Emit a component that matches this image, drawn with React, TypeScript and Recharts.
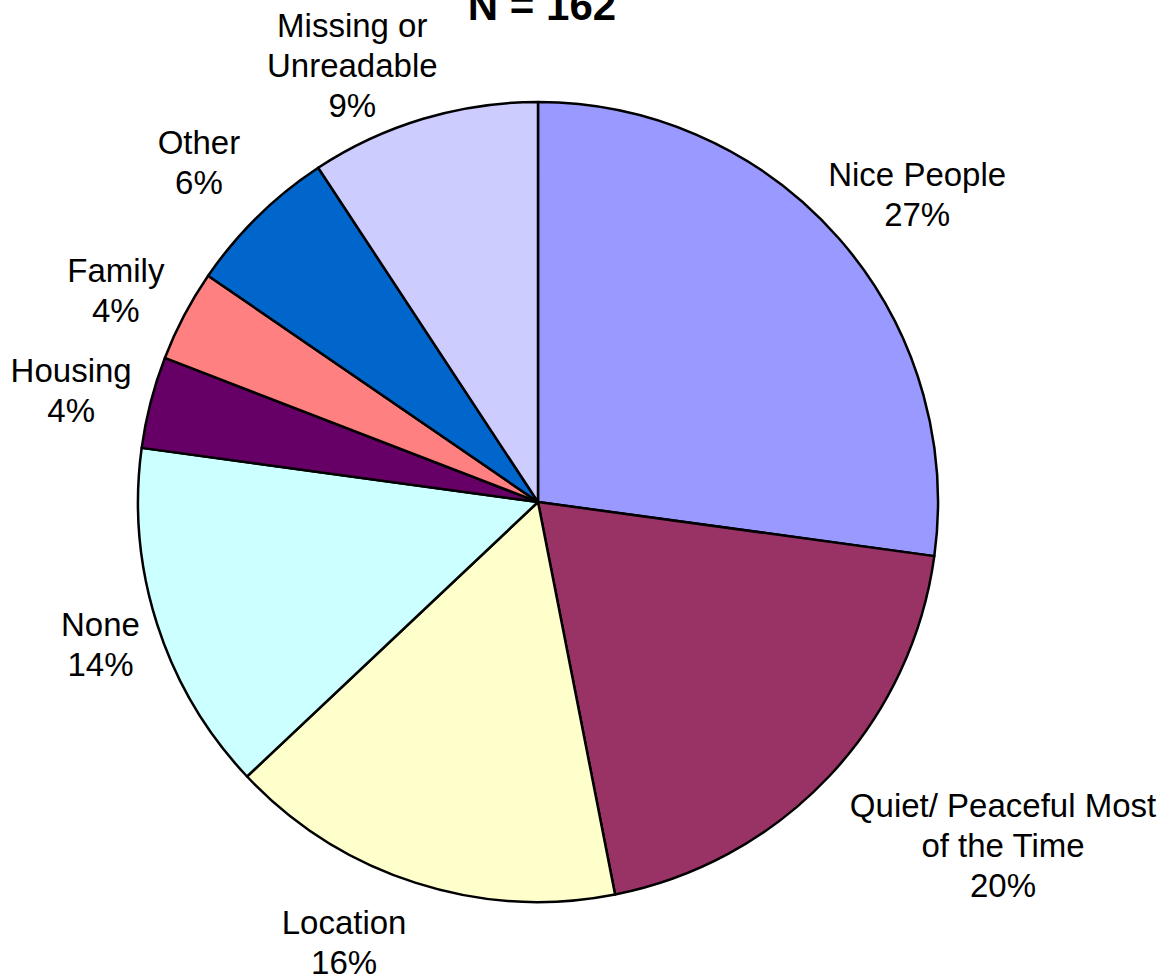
import React from "react";
import { PieChart, Pie, Cell } from "recharts";

// ---- data ----
const categories = [
  "Nice People",
  "Quiet/ Peaceful Most\nof the Time",
  "Location",
  "None",
  "Housing",
  "Family",
  "Other",
  "Missing or\nUnreadable",
];
const counts = [44, 32, 26, 23, 6, 6, 10, 15];
const colors = ["#9999FF", "#993366", "#FFFFCC", "#CCFFFF", "#660066", "#FF8080", "#0066CC", "#CCCCFF"];
const titleText = "N = 162";

// label placement: angular nudge (deg, clockwise) from the slice mid angle, and distance beyond the rim
const labelAngleNudge = [2.1, -6.9, 6.0, -0.2, -1.0, -1.2, -0.5, -6.4];
const labelRadiusExtra = [88, 178, 81, 60, 80, 72, 80, 74];

const data = categories.map((name, i) => ({ name, value: counts[i] }));

const FONT = "'Liberation Sans', Arial, Helvetica, sans-serif";
const FONT_SIZE = 33;
const LINE_H = 40;
const RAD = Math.PI / 180;

const renderLabel = (props: any) => {
  const { cx, cy, midAngle, outerRadius, index, percent } = props;
  const angle = midAngle - labelAngleNudge[index];
  const r = outerRadius + labelRadiusExtra[index];
  const x = cx + r * Math.cos(-angle * RAD);
  const y = cy + r * Math.sin(-angle * RAD);
  const lines = [...categories[index].split("\n"), `${Math.round(percent * 100)}%`];
  const n = lines.length;
  const firstBaseline = y - ((n - 1) * LINE_H) / 2 + FONT_SIZE * 0.35;
  return (
    <text
      key={`lbl-${index}`}
      x={x}
      y={firstBaseline}
      textAnchor="middle"
      fill="#000"
      fontFamily={FONT}
      fontSize={FONT_SIZE}
    >
      {lines.map((ln, i) => (
        <tspan key={i} x={x} y={firstBaseline + i * LINE_H}>
          {ln}
        </tspan>
      ))}
    </text>
  );
};

export default function App() {
  return (
    <div style={{ position: "absolute", left: 0, top: 0, width: 1173, height: 978, background: "#fff" }}>
      <PieChart width={1173} height={978} margin={{ top: 0, right: 0, bottom: 0, left: 0 }}>
        <Pie
          data={data}
          dataKey="value"
          nameKey="name"
          cx={538}
          cy={502}
          outerRadius={400}
          startAngle={90}
          endAngle={-270}
          stroke="#000"
          strokeWidth={2.5}
          strokeLinejoin="round"
          labelLine={false}
          label={renderLabel}
          isAnimationActive={false}
        >
          {data.map((d, i) => (
            <Cell key={d.name} fill={colors[i]} />
          ))}
        </Pie>
      </PieChart>
      <svg width={1173} height={60} style={{ position: "absolute", left: 0, top: 0 }}>
        <text x={542} y={20} textAnchor="middle" fontFamily={FONT} fontSize={42} fontWeight="bold" fill="#000">
          {titleText}
        </text>
      </svg>
    </div>
  );
}
